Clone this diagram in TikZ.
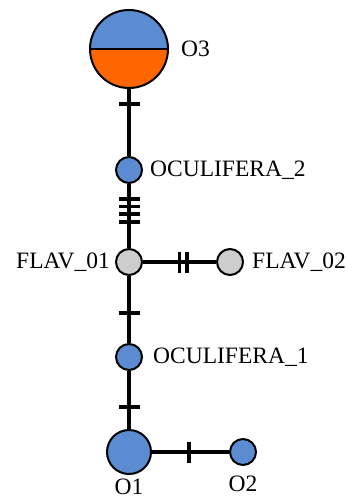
\documentclass[tikz,border=0pt]{standalone}
\usepackage{fontspec}
\setmainfont{Liberation Serif}
\usepackage{tikz}
\usetikzlibrary{shapes.geometric, arrows}
\definecolor{hapblue}{RGB}{91,140,209}
\definecolor{haporange}{RGB}{255,102,0}
\definecolor{hapgray}{RGB}{205,205,205}
\tikzstyle{hap} = [circle, draw=black, line width=2pt, minimum size=26pt, inner sep=0pt, fill=hapblue]
\tikzstyle{median} = [hap, fill=hapgray]
\tikzstyle{taxon} = [inner sep=0pt, font=\fontsize{23.5}{28}\selectfont]
\tikzstyle{link} = [line width=3.4pt]
\tikzstyle{tick} = [rectangle, fill=black, minimum width=3.6pt, minimum height=21pt, inner sep=0pt, sloped]

\begin{document}
\begin{tikzpicture}
		\useasboundingbox (0pt,0pt) rectangle (345pt,-500pt);
		\node (O3) [hap, minimum size=78pt, path picture={
			\fill[hapblue] (path picture bounding box.west) rectangle (path picture bounding box.north east);
			\fill[haporange] (path picture bounding box.west) rectangle (path picture bounding box.south east);
			\draw[line width=2pt] (path picture bounding box.west) -- (path picture bounding box.east);}] at (129pt,-49pt) {};
		\node (oc2) [hap, below of=O3, node distance=121pt] {};
		\node (flav1) [median, below of=oc2, node distance=92pt] {};
		\node (flav2) [median, right of=flav1, node distance=101pt] {};
		\node (oc1) [hap, below of=flav1, node distance=95pt] {};
		\node (O1) [hap, minimum size=44pt, below of=oc1, node distance=95pt] {};
		\node (O2) [hap, right of=O1, node distance=114pt] {};
		% names
		\node (tO3) [taxon, anchor=west, xshift=12pt] at (O3.east) {O3};
		\node (toc2) [taxon, anchor=west, xshift=7pt] at (oc2.east) {OCULIFERA\_2};
		\node (tflav1) [taxon, anchor=east, xshift=-5pt] at (flav1.west) {FLAV\_01};
		\node (tflav2) [taxon, anchor=west, xshift=8pt] at (flav2.east) {FLAV\_02};
		\node (toc1) [taxon, anchor=west, xshift=10pt] at (oc1.east) {OCULIFERA\_1};
		\node (tO1) [taxon, anchor=north, yshift=-4pt] at (O1.south) {O1};
		\node (tO2) [taxon, anchor=north, yshift=-10pt] at (O2.south) {O2};
		% links with mutation ticks
		\draw [link] (O3) -- node[tick, pos=0.22] {} (oc2);
		\draw [link] (oc2) -- node[tick, pos=0.23] {} node[tick, pos=0.35] {} node[tick, pos=0.47] {} node[tick, pos=0.59] {} (flav1);
		\draw [link] (flav1) -- node[tick, pos=0.5] {} node[tick, pos=0.6] {} (flav2);
		\draw [link] (flav1) -- node[tick, pos=0.55] {} (oc1);
		\draw [link] (oc1) -- node[tick, pos=0.62] {} (O1);
		\draw [link] (O1) -- node[tick, pos=0.48] {} (O2);
\end{tikzpicture}
\end{document}
